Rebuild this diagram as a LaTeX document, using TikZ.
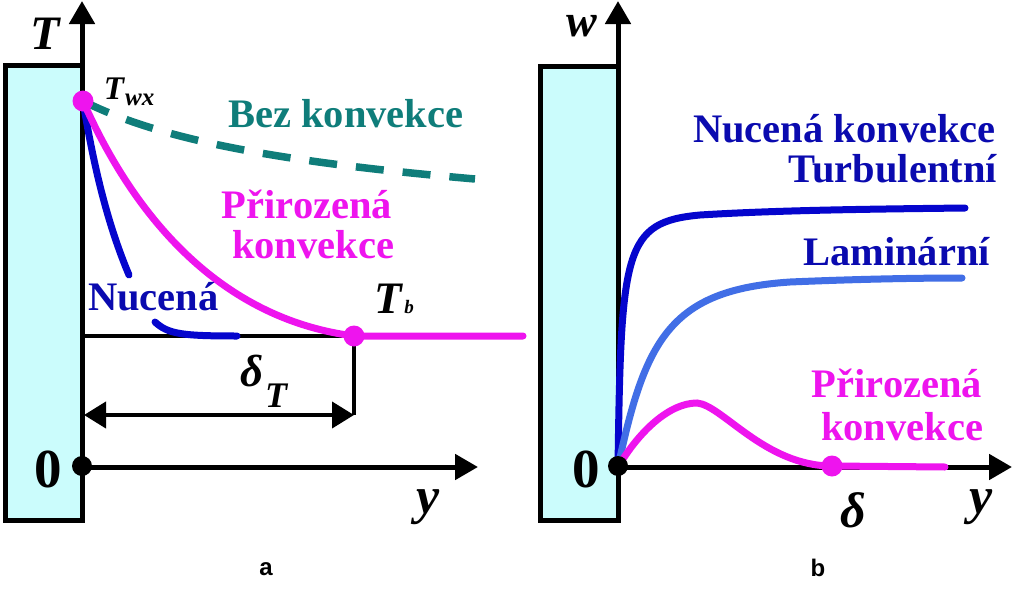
\documentclass[tikz,border=0pt]{standalone}
\usepackage{fontspec}
\setmainfont{Liberation Serif}
\newfontfamily\labsans{Liberation Sans}
\usetikzlibrary{arrows.meta}
\definecolor{wallc}{RGB}{203,252,252}
\definecolor{tealc}{RGB}{15,125,122}
\definecolor{magc}{RGB}{238,20,238}
\definecolor{dblue}{RGB}{5,5,205}
\definecolor{tblue}{RGB}{10,10,175}
\definecolor{lblue}{RGB}{65,110,230}
\begin{document}
\begin{tikzpicture}[x=1pt,y=-1pt,
  wall/.style={draw=black, fill=wallc, line width=5pt},
  axis/.style={line width=5pt, -{Triangle[length=23pt,width=25pt]}},
  lbl/.style={inner sep=0pt, font=\fontsize{40.5}{44}\selectfont\bfseries},
  ital/.style={inner sep=0pt, font=\fontsize{#1}{#1}\selectfont\bfseries\itshape},
  zero/.style={inner sep=0pt, font=\fontsize{55}{55}\selectfont\bfseries},
  sub/.style={inner sep=0pt, font=\fontsize{24}{24}\selectfont\labsans\bfseries},
  curve/.style={line width=7pt, line cap=round},
  thin/.style={line width=4pt},
  dotm/.style={circle, fill=magc, inner sep=0pt, minimum size=21pt},
  dotb/.style={circle, fill=black, inner sep=0pt, minimum size=20pt}]

\useasboundingbox (0,0) rectangle (1023,597);
\fill[white] (0,0) rectangle (1023,597);

% ---------------- panel a ----------------
\filldraw[wall] (5.5,65.5) rectangle (82,520);
\coordinate (Abot) at (82,522.5);
\coordinate (Atop) at (82,1);
\coordinate (Aend) at (478,467);
\coordinate (Twx) at (83,101);
\coordinate (Tb) at (354,336);
\coordinate (Hl) at (82,336);
\coordinate (Vd) at (354,415);
\coordinate (Dl) at (84,415);
\coordinate (Mend) at (523,336);
\coordinate (Dend) at (475,179);
\coordinate (Nend) at (129,275);
\coordinate (Ns) at (155,322);
\coordinate (Ne) at (237,336);

\draw[axis] (Abot) -- (Atop);
\draw[axis] (82,467) -- (Aend);

\draw[thin] (Hl) -- (Tb);
\draw[thin] (Tb) -- (Vd);
\draw[thin, {Triangle[length=22pt,width=26pt]}-{Triangle[length=22pt,width=26pt]}] (Dl) -- (Vd);

\draw[curve, tealc, line width=7.5pt, line cap=butt, dash pattern=on 28pt off 19pt]
  (Twx) .. controls (160,140) and (280,162) .. (Dend);
\draw[curve, dblue] (Twx) .. controls (95,175) and (110,230) .. (Nend);
\draw[curve, dblue] (Ns) .. controls (168,334) and (182,336) .. (Ne);
\draw[curve, magc] (Twx) .. controls (140,230) and (230,320) .. (Tb) -- (Mend);

\node[dotm] (dTwx) at (Twx) {};
\node[dotm] (dTb) at (Tb) {};
\node[dotb] (O1) at (82,466) {};

\node[ital=48] (lT) at (45,34) {T};
\node[ital=33] (lTw) at (114,89) {T};
\node[ital=25, anchor=base west] (lwx) at (125,105) {wx};
\node[lbl, text=tealc, anchor=base west] (lbez) at (228,127) {Bez konvekce};
\node[lbl, text=magc, anchor=base] (lpr1) at (307,218) {Přirozená};
\node[lbl, text=magc, anchor=base] (lpr2) at (313,258) {konvekce};
\node[lbl, text=tblue, anchor=base west] (lnuc) at (88,310) {Nucená};
\node[ital=45, anchor=base] (lTb) at (388,313) {T};
\node[ital=19, anchor=base] (lb) at (409,313) {b};
\node[ital=45] (ldel) at (252,371) {δ};
\node[ital=36] (ldT) at (276,396) {T};
\node[zero] (l0a) at (48,469) {0};
\node[ital=52] (lya) at (428,507) {y};
\node[sub] (la) at (266,569) {a};

% ---------------- panel b ----------------
\filldraw[wall] (540,66) rectangle (618,520);
\coordinate (Bbot) at (618,522.5);
\coordinate (Btop) at (618,1);
\coordinate (Bend) at (1012,467);
\coordinate (O2c) at (618,467);
\coordinate (Tu) at (965,208);
\coordinate (La) at (962,278);
\coordinate (Pk) at (697,403);
\coordinate (Dl2) at (832,466);
\coordinate (Pend) at (945,467);

\draw[axis] (Bbot) -- (Btop);
\draw[axis] (O2c) -- (Bend);

\draw[curve, dblue] (O2c) .. controls (621,250) and (624,222) .. (700,215)
  .. controls (780,210) and (880,209) .. (Tu);
\draw[curve, lblue] (O2c) .. controls (645,340) and (670,290) .. (790,282)
  .. controls (860,279) and (920,278) .. (La);
\draw[curve, magc] (O2c) .. controls (640,430) and (670,403) .. (Pk)
  .. controls (722,405) and (765,466) .. (Dl2) -- (Pend);

\node[dotm] (dDl) at (Dl2) {};
\node[dotb] (O2) at (618,466) {};

\node[ital=46] (lw) at (582,26) {w};
\node[lbl, text=tblue, anchor=base east] (lnk) at (996,142) {Nucená konvekce};
\node[lbl, text=tblue, anchor=base east] (ltu) at (997,182) {Turbulentní};
\node[lbl, text=tblue, anchor=base east] (llam) at (990,265) {Laminární};
\node[lbl, text=magc, anchor=base] (rpr1) at (897,397) {Přirozená};
\node[lbl, text=magc, anchor=base] (rpr2) at (902,440) {konvekce};
\node[zero] (l0b) at (586,469) {0};
\node[ital=50] (ldelb) at (853,510) {δ};
\node[ital=52] (lyb) at (981,507) {y};
\node[sub] (lbb) at (818,568) {b};
\end{tikzpicture}
\end{document}
